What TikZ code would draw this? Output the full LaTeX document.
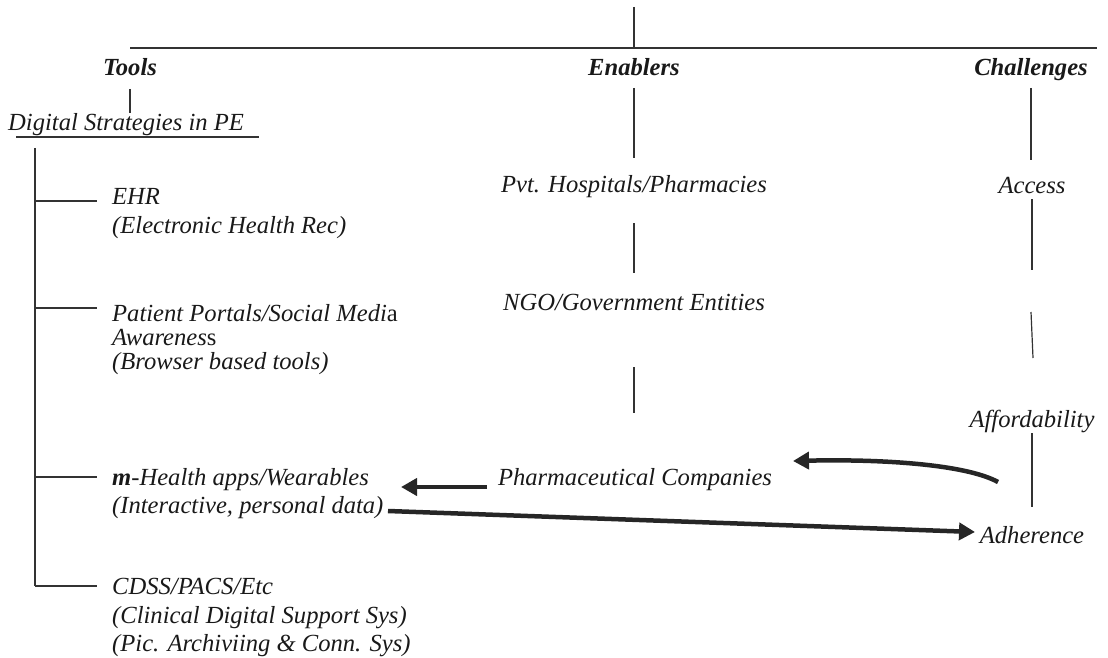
\documentclass[tikz,border=0pt]{standalone}
\usepackage{fontspec}
\setmainfont{Liberation Serif}
\usetikzlibrary{arrows.meta}
\begin{document}
\begin{tikzpicture}[x=1pt,y=-1pt,
  txt/.style={inner sep=0pt, font=\fontsize{24.6}{29}\selectfont\itshape, text=black!90},
  head/.style={inner sep=0pt, font=\fontsize{24.6}{29}\selectfont\bfseries\itshape, text=black!90},
  thin/.style={line width=1.2pt, draw=black!80},
  thickarrow/.style={line width=4.5pt, draw=black!85, -{Triangle[length=16pt,width=17pt]}}]
\useasboundingbox (0,0) rectangle (1108,658);

% headings
\node[head, anchor=base] (tools) at (130,76) {Tools};
\node[head, anchor=base] (enab) at (634,76) {Enablers};
\node[head, anchor=base] (chal) at (1031,76) {Challenges};

% tools column
\node[txt, anchor=base west] (dig) at (8,131) {Digital Strategies in PE};
\node[txt, anchor=base west] (ehr1) at (112,204) {EHR};
\node[txt, anchor=base west] (ehr2) at (112,233) {(Electronic Health Rec)};
\node[txt, anchor=base west] (pp1) at (112,321) {Patient Portals/Social Medi\textup{a}};
\node[txt, anchor=base west] (pp2) at (112,345) {Awarenes\textup{s}};
\node[txt, anchor=base west] (pp3) at (112,369) {(Browser based tools)};
\node[txt, anchor=base west] (mh1) at (112,485) {\textbf{m}-Health apps/Wearables};
\node[txt, anchor=base west] (mh2) at (112,513) {(Interactive, personal data)};
\node[txt, anchor=base west] (cd1) at (112,594) {CDSS/PACS/Etc};
\node[txt, anchor=base west] (cd2) at (112,623) {(Clinical Digital Support Sys)};
\node[txt, anchor=base west] (cd3) at (112,651) {(Pic. Archiviing \& Conn. Sys)};

% enablers column
\node[txt, anchor=base] (pvt) at (634,192) {Pvt. Hospitals/Pharmacies};
\node[txt, anchor=base] (ngo) at (634,310) {NGO/Government Entities};
\node[txt, anchor=base] (pharma) at (635,485) {Pharmaceutical Companies};

% challenges column
\node[txt, anchor=base] (acc) at (1032,193) {Access};
\node[txt, anchor=base] (aff) at (1032,427) {Affordability};
\node[txt, anchor=base] (adh) at (1032,543) {Adherence};

% top structure
\coordinate (t0) at (634,7);
\coordinate (t1) at (634,48);
\coordinate (hl) at (130,48);
\coordinate (hr) at (1097,48);
\draw[thin] (t0) -- (t1);
\draw[thin] (hl) -- (hr);

% tools links
\coordinate (tv0) at (130,89);
\coordinate (tv1) at (130,113);
\draw[thin] (tv0) -- (tv1);
\coordinate (ul0) at (16,137);
\coordinate (ul1) at (259,137);
\draw[line width=1.8pt, draw=black!80] (ul0) -- (ul1);

\coordinate (tr0) at (35,148);
\coordinate (tr1) at (35,586);
\draw[thin] (tr0) -- (tr1);
\coordinate (b1) at (35,201);
\coordinate (b2) at (35,308);
\coordinate (b3) at (35,477);
\coordinate (b4) at (35,586);
\draw[thin] (b1) -- (97,201);
\draw[thin] (b2) -- (97,308);
\draw[thin] (b3) -- (97,477);
\draw[thin] (b4) -- (97,586);

% enablers links
\coordinate (e0) at (634,88);
\coordinate (e1) at (634,158);
\coordinate (e2) at (634,223);
\coordinate (e3) at (634,273);
\coordinate (e4) at (634,367);
\coordinate (e5) at (634,413);
\draw[thin] (e0) -- (e1);
\draw[thin] (e2) -- (e3);
\draw[thin] (e4) -- (e5);

% challenges links
\coordinate (c0) at (1031,88);
\coordinate (c1) at (1031,160);
\coordinate (c2) at (1032,199);
\coordinate (c3) at (1032,270);
\coordinate (c4) at (1031,312);
\coordinate (c5) at (1033,358);
\coordinate (c6) at (1032,433);
\coordinate (c7) at (1032,507);
\draw[thin] (c0) -- (c1);
\draw[thin] (c2) -- (c3);
\draw[thin] (c4) -- (c5);
\draw[thin] (c6) -- (c7);

% thick arrows
\coordinate (a1s) at (998,482);
\coordinate (a1e) at (793,461);
\draw[thickarrow] (a1s) .. controls (965,464) and (880,459) .. (a1e);
\coordinate (a2s) at (487,487);
\coordinate (a2e) at (401,487);
\draw[thickarrow] (a2s) -- (a2e);
\coordinate (a3s) at (388,511);
\coordinate (a3e) at (975,532);
\draw[thickarrow] (a3s) -- (a3e);
\end{tikzpicture}
\end{document}
